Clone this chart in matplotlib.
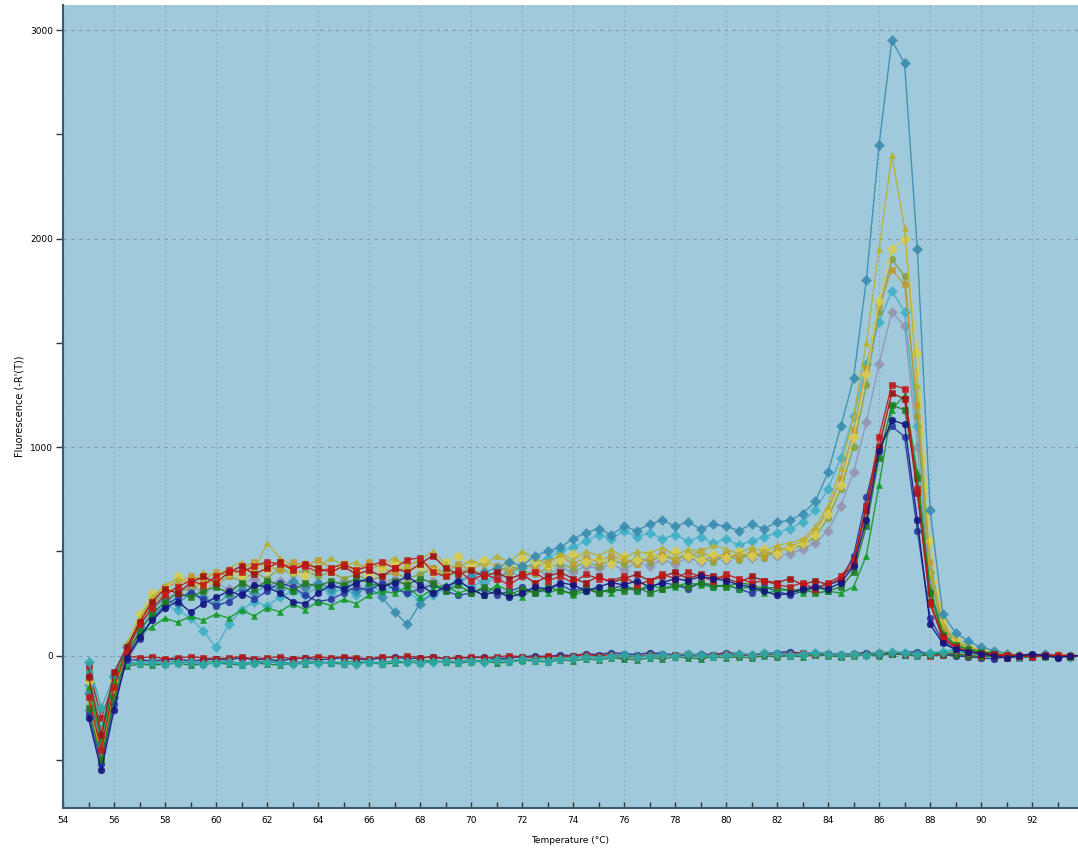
import numpy as np
import matplotlib
matplotlib.use("Agg")
import matplotlib.pyplot as plt

# temperature steps (deg C), 55.0 .. 94.0 every 0.5
temps = np.arange(55.0, 94.01, 0.5)

# positive samples, low peaks (red / blue / green)
b1 = [-300, -550, -260, -10, 90, 170, 230, 260, 210, 250,
      280, 310, 290, 340, 330, 300, 260, 250, 300, 340,
      320, 350, 370, 330, 350, 380, 340, 300, 330, 360,
      320, 290, 310, 280, 300, 330, 320, 350, 340, 310,
      330, 350, 340, 360, 330, 350, 370, 360, 380, 370,
      360, 340, 330, 310, 290, 300, 320, 330, 320, 350,
      430, 650, 980, 1130, 1110, 650, 150, 60, 30, 20,
      10, 0, -10, 0, 10, 0, -10, 0, 0]
b2 = [-200, -450, -150, 20, 150, 230, 290, 330, 360, 340,
      380, 410, 400, 430, 450, 440, 420, 430, 400, 420,
      440, 410, 430, 450, 420, 460, 470, 400, 380, 410,
      360, 390, 370, 340, 380, 400, 360, 380, 350, 390,
      370, 360, 380, 340, 360, 390, 370, 400, 380, 360,
      390, 370, 350, 360, 340, 330, 350, 320, 350, 380,
      460, 720, 1050, 1300, 1280, 800, 250, 80, 40, 20,
      10, 0, 5, 0, -5, 0, 5, 0, 0]
b3 = [-150, -400, -120, 30, 100, 140, 180, 160, 190, 170,
      200, 180, 220, 190, 230, 210, 250, 220, 260, 240,
      270, 250, 290, 310, 300, 330, 280, 320, 340, 300,
      320, 290, 340, 310, 280, 330, 300, 320, 290, 310,
      320, 300, 330, 310, 340, 320, 330, 350, 340, 330,
      340, 320, 330, 300, 310, 320, 300, 330, 310, 300,
      330, 480, 820, 1180, 1250, 880, 320, 110, 50, 30,
      20, 10, 0, 5, 0, -5, 0, 0, 0]
b4 = [-250, -500, -200, 0, 120, 200, 260, 300, 280, 310,
      330, 300, 350, 320, 360, 340, 310, 350, 330, 360,
      340, 370, 350, 330, 360, 340, 370, 350, 310, 340,
      300, 330, 310, 290, 320, 300, 330, 310, 300, 320,
      300, 320, 310, 330, 300, 320, 340, 330, 350, 340,
      330, 350, 340, 320, 330, 310, 320, 300, 310, 330,
      400, 620, 950, 1200, 1180, 850, 300, 100, 50, 30,
      20, 10, 0, 0, 5, 0, 0, -5, 0]
b5 = [-100, -380, -80, 40, 160, 260, 320, 300, 350, 380,
      350, 400, 430, 390, 420, 450, 410, 440, 420, 400,
      430, 390, 410, 380, 420, 400, 440, 480, 420, 390,
      410, 380, 400, 370, 390, 350, 380, 400, 370, 350,
      380, 350, 370, 390, 360, 380, 400, 370, 390, 380,
      370, 350, 380, 360, 350, 370, 340, 360, 340, 370,
      440, 700, 1000, 1260, 1230, 780, 260, 90, 40, 20,
      10, 10, 0, 0, 0, 5, 0, 0, 0]
b6 = [-280, -520, -230, -20, 80, 180, 240, 280, 300, 270,
      240, 260, 300, 270, 310, 350, 330, 290, 260, 270,
      300, 330, 310, 350, 320, 300, 320, 340, 310, 290,
      300, 320, 290, 310, 330, 300, 320, 340, 310, 330,
      300, 320, 340, 310, 330, 350, 340, 320, 350, 330,
      340, 320, 300, 330, 310, 290, 310, 330, 340, 360,
      480, 760, 1000, 1100, 1050, 600, 180, 70, 30, 20,
      10, 0, 0, 5, 0, 0, -5, 0, 0]

# positive samples, high peaks (teal / yellow / grey)
a1 = [-180, -420, -100, 40, 140, 230, 270, 250, 300, 280,
      250, 290, 320, 300, 340, 320, 360, 330, 350, 320,
      340, 310, 330, 280, 210, 150, 250, 300, 330, 360,
      380, 400, 420, 450, 430, 480, 500, 520, 560, 590,
      610, 580, 620, 600, 630, 650, 620, 640, 610, 630,
      620, 600, 630, 610, 640, 650, 680, 740, 880, 1100,
      1330, 1800, 2450, 2950, 2840, 1950, 700, 200, 110, 70,
      40, 25, 10, 0, 0, 10, 0, 0, 0]
a2 = [-220, -480, -180, 60, 180, 280, 340, 370, 350, 400,
      380, 420, 450, 410, 540, 470, 430, 450, 420, 470,
      430, 450, 410, 440, 470, 430, 460, 500, 440, 420,
      460, 430, 480, 450, 500, 470, 440, 490, 460, 500,
      480, 510, 470, 500, 490, 520, 480, 510, 500, 530,
      510, 490, 520, 500, 530, 540, 560, 620, 720, 900,
      1150, 1500, 1950, 2400, 2050, 1300, 400, 150, 70, 45,
      25, 10, 10, 0, 5, 0, 0, 0, 0]
a3 = [-120, -400, -120, 50, 200, 300, 320, 380, 350, 330,
      360, 400, 380, 430, 410, 450, 400, 380, 420, 400,
      440, 410, 380, 420, 450, 410, 430, 400, 450, 480,
      430, 460, 420, 440, 470, 450, 430, 460, 490, 450,
      470, 440, 480, 460, 490, 470, 500, 480, 460, 490,
      470, 500, 480, 510, 490, 520, 540, 580, 680, 820,
      1050, 1350, 1700, 1950, 2000, 1450, 550, 170, 80, 45,
      30, 20, 10, 5, 0, 0, 5, 0, 0]
a4 = [-160, -430, -150, 30, 160, 250, 300, 330, 310, 360,
      340, 380, 360, 400, 370, 420, 390, 410, 380, 400,
      370, 390, 360, 380, 400, 370, 390, 420, 380, 400,
      420, 380, 400, 430, 410, 390, 420, 440, 420, 450,
      430, 460, 440, 470, 450, 480, 460, 490, 470, 450,
      480, 460, 490, 470, 500, 510, 530, 570, 660, 800,
      1000, 1300, 1650, 1900, 1820, 1150, 380, 130, 60, 35,
      20, 10, 0, 5, 0, 0, 0, 5, 0]
a5 = [-260, -460, -200, -10, 110, 220, 280, 300, 330, 310,
      350, 320, 340, 370, 330, 360, 340, 320, 350, 330,
      360, 340, 310, 350, 370, 340, 320, 360, 330, 350,
      380, 350, 370, 400, 380, 410, 390, 420, 400, 430,
      420, 440, 410, 450, 430, 460, 440, 470, 450, 480,
      460, 490, 470, 500, 480, 490, 510, 540, 600, 720,
      880, 1120, 1400, 1650, 1580, 1000, 330, 110, 50, 30,
      20, 10, 5, 0, 0, 5, 0, 0, 0]
a6 = [-140, -360, -90, 50, 120, 200, 240, 220, 180, 120,
      40, 150, 220, 260, 240, 280, 310, 290, 330, 300,
      320, 290, 340, 310, 330, 300, 270, 290, 320, 350,
      330, 360, 380, 400, 420, 440, 470, 500, 520, 550,
      580, 560, 600, 570, 590, 560, 580, 550, 570, 540,
      560, 530, 550, 570, 590, 610, 640, 700, 800, 950,
      1150, 1400, 1600, 1750, 1650, 1100, 400, 140, 70, 40,
      20, 10, 5, 0, 0, 0, 5, 0, 0]
a7 = [-200, -500, -170, 20, 170, 270, 330, 350, 380, 360,
      400, 380, 420, 450, 430, 410, 450, 430, 460, 420,
      440, 410, 450, 420, 400, 430, 460, 420, 400, 440,
      410, 450, 430, 400, 440, 420, 450, 480, 440, 470,
      450, 480, 460, 440, 470, 490, 460, 480, 500, 470,
      490, 470, 500, 480, 510, 520, 550, 600, 700, 850,
      1080, 1380, 1680, 1850, 1780, 1200, 450, 140, 60, 40,
      20, 10, 5, 0, 0, 0, 0, 0, 0]

# no-template / negative wells, flat near zero
c1 = [-80, -350, -150, -40, -30, -35, -30, -25, -35, -30,
      -25, -30, -35, -30, -25, -30, -35, -25, -30, -35,
      -30, -25, -35, -30, -25, -30, -20, -25, -30, -25,
      -20, -25, -15, -20, -25, -15, -10, -15, -5, -10,
      -5, 0, -10, -5, 0, -5, 5, 0, -5, 0,
      5, 0, 5, 10, 5, 0, 5, 10, 5, 10,
      5, 10, 15, 10, 5, 10, 15, 10, 20, 10,
      5, 0, 5, 0, -5, 0, -5, 0, 0]
c2 = [-100, -420, -180, -20, -20, -25, -20, -15, -25, -20,
      -15, -20, -10, -20, -15, -25, -15, -10, -20, -15,
      -10, -15, -20, -10, -5, -15, -10, -5, -15, -10,
      -10, -5, -15, -10, -5, 0, -5, 5, 0, 10,
      5, 15, 10, 5, 15, 10, 5, 0, 10, 5,
      15, 10, 5, 10, 15, 20, 10, 15, 10, 5,
      10, 15, 5, 10, 15, 20, 10, 5, 0, -5,
      -10, -15, -5, 0, -5, 0, 5, -5, 0]
c3 = [-50, -300, -120, 0, -10, -5, -15, -10, -5, -10,
      -15, -10, -5, -15, -10, -5, -15, -10, -5, -10,
      -5, -10, -15, -5, -10, 0, -10, -5, -15, -10,
      -5, -10, -5, 0, -5, -10, 0, -5, 0, 5,
      0, 5, 0, -5, 5, 0, 5, 10, 0, 5,
      10, 5, 0, 10, 5, 10, 15, 5, 10, 0,
      10, 5, 15, 10, 5, 10, 0, 5, 10, 0,
      -5, 0, -10, -5, 0, 5, 0, -5, 0]
c4 = [-150, -380, -130, -50, -40, -45, -40, -35, -45, -40,
      -35, -40, -45, -35, -40, -45, -35, -40, -30, -35,
      -40, -35, -30, -40, -35, -30, -35, -25, -30, -35,
      -30, -25, -35, -30, -20, -25, -30, -20, -25, -15,
      -20, -10, -15, -20, -10, -15, -5, -10, -15, -5,
      -10, -5, -10, 0, -5, 0, -5, 5, 0, -5,
      0, 5, 0, 10, 5, 0, 5, 10, 5, 0,
      -5, 0, -5, -10, -5, 0, -5, 0, 0]
c5 = [-30, -250, -100, -30, -35, -30, -40, -35, -30, -40,
      -35, -30, -40, -35, -30, -35, -40, -30, -35, -30,
      -35, -40, -30, -35, -25, -30, -35, -30, -25, -30,
      -25, -30, -20, -25, -15, -20, -25, -15, -10, -5,
      -10, 0, 5, -5, 0, 5, 0, 10, 5, 0,
      5, 10, 5, 15, 10, 5, 10, 15, 10, 5,
      10, 5, 15, 20, 15, 10, 15, 20, 30, 25,
      20, 15, 10, 5, 0, 5, 0, -5, 0]

series = [
    (c1, '#2a9a70', 'o'), (c2, '#1c2a8c', 'o'), (c3, '#b01818', 's'),
    (c4, '#1a7a30', '^'), (c5, '#30a8a8', 'D'),
    (a5, '#9494b0', 'D'), (a6, '#40b0c8', 'D'), (a4, '#8aa040', 'o'),
    (a7, '#c09a30', 's'), (a3, '#d8cc50', 'D'), (a2, '#b8b030', '^'),
    (a1, '#3a8cb0', 'D'),
    (b6, '#2a3aa0', 'o'), (b3, '#119a22', '^'), (b4, '#207a20', 's'),
    (b5, '#a01010', 's'), (b2, '#c01818', 's'), (b1, '#141480', 'o'),
]

fig = plt.figure(figsize=(10.78, 8.52), dpi=100)
ax = fig.add_axes([63 / 1078, 44 / 852, 1015 / 1078, 803 / 852])
ax.set_facecolor('#a0cadb')

for vals, col, mk in series:
    ax.plot(temps, vals, color=col, lw=1.0, marker=mk, markersize=4.8,
            markeredgewidth=0.4, markeredgecolor=col, alpha=0.9)

ax.set_xlim(54, 93.8)
ax.set_ylim(-730, 3120)
ax.set_xticks(np.arange(54, 94, 2))
ax.set_xticks(np.arange(55, 94, 2), minor=True)
ax.set_yticks([0, 1000, 2000, 3000])
ax.set_yticks([-500, 500, 1500, 2500], minor=True)

ax.grid(True, which='major', axis='x', linestyle=(0, (1, 3)), color='#7d9cab', lw=0.8)
ax.grid(True, which='major', axis='y', linestyle=(0, (3, 4)), color='#7d9cab', lw=0.8)

for side in ['top', 'right']:
    ax.spines[side].set_visible(False)
for side in ['left', 'bottom']:
    ax.spines[side].set_color('#3a5a6a')
    ax.spines[side].set_linewidth(1.5)

ax.tick_params(axis='y', which='both', direction='out', length=5, width=1,
               color='#333333', labelsize=6.5, pad=2)
ax.tick_params(axis='x', which='both', direction='in', length=4, width=1,
               color='#333333', labelsize=6.5, pad=6)

ax.set_xlabel('Temperature (°C)', fontsize=6.5, labelpad=8)
ax.set_ylabel("Fluorescence (-R'(T))", fontsize=7, labelpad=4)

fig.savefig('out.png', dpi=100)
